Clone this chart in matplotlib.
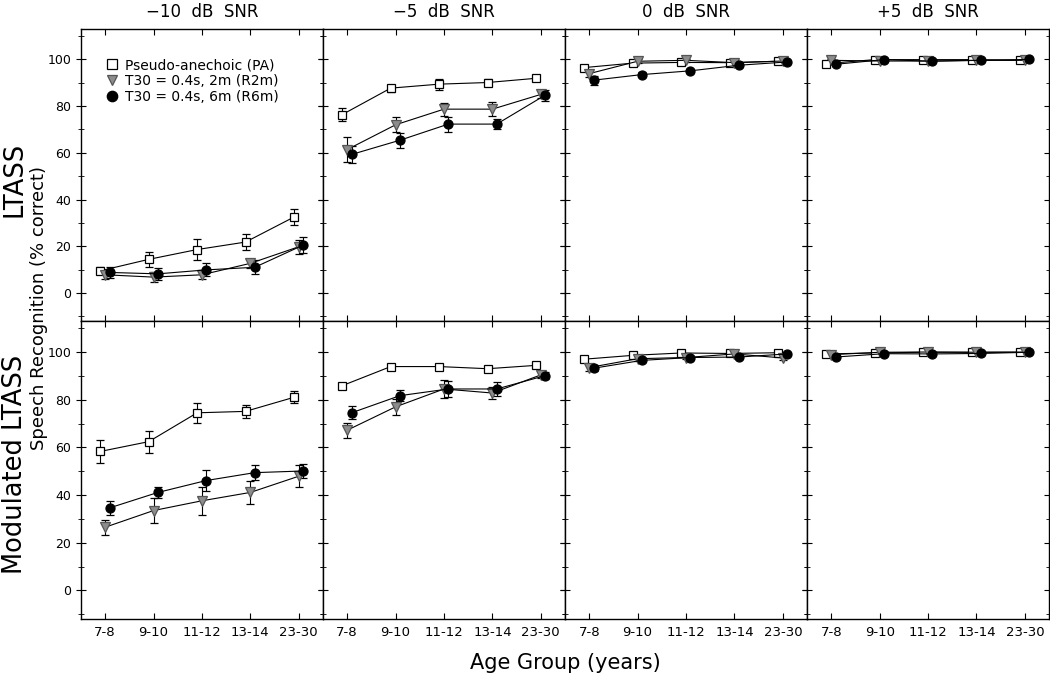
import matplotlib
matplotlib.use('Agg')
import matplotlib.pyplot as plt
from matplotlib.ticker import MultipleLocator
from matplotlib.lines import Line2D

# age groups and SNR conditions
ages = ['7-8', '9-10', '11-12', '13-14', '23-30']
snrs = ['\u221210  dB  SNR', '\u22125  dB  SNR', '0  dB  SNR', '+5  dB  SNR']

#########-----LTASS (top row), one list per SNR-----#########
pa_ltass = [[9.5, 14.4, 18.6, 21.8, 32.5],
            [76.4, 87.7, 89.4, 90.1, 91.9],
            [96.5, 98.4, 98.7, 98.6, 99.2],
            [98.2, 99.9, 99.9, 99.9, 99.6]]
pa_ltass_err = [[1.5, 3.2, 4.4, 3.5, 3.5],
                [2.7, 1.5, 2.3, 1.5, 1.0],
                [1.2, 0.8, 0.8, 0.8, 0.6],
                [0.8, 0.5, 0.5, 0.5, 0.5]]
r2_ltass = [[7.8, 6.8, 7.8, 12.7, 19.8],
            [61.4, 72.0, 78.7, 78.7, 85.0],
            [93.9, 99.2, 99.6, 98.6, 99.3],
            [99.6, 99.3, 99.3, 99.6, 99.6]]
r2_ltass_err = [[2.0, 2.0, 2.0, 2.0, 3.0],
                [5.3, 3.2, 2.8, 3.0, 1.5],
                [1.5, 0.8, 0.6, 0.8, 0.6],
                [0.5, 0.5, 0.5, 0.5, 0.5]]
r6_ltass = [[8.8, 8.2, 9.9, 11.0, 20.5],
            [59.3, 65.4, 72.3, 72.3, 84.7],
            [91.1, 93.5, 95.1, 97.5, 98.9],
            [97.9, 99.9, 99.2, 99.6, 100.0]]
r6_ltass_err = [[2.5, 2.5, 2.8, 3.0, 3.5],
                [3.5, 3.2, 3.2, 2.3, 2.3],
                [2.0, 1.0, 0.8, 0.8, 0.6],
                [0.8, 0.5, 0.5, 0.5, 0.3]]

#########-----Modulated LTASS (bottom row)-----#########
pa_mod = [[58.3, 62.4, 74.5, 75.1, 81.0],
          [85.9, 93.9, 93.9, 93.0, 94.4],
          [97.0, 98.6, 99.6, 99.4, 99.7],
          [99.2, 99.6, 99.9, 99.9, 99.9]]
pa_mod_err = [[5.0, 4.6, 4.1, 2.7, 2.5],
              [1.0, 0.8, 0.8, 0.8, 0.8],
              [0.8, 0.6, 0.5, 0.5, 0.5],
              [0.5, 0.5, 0.3, 0.3, 0.3]]
r2_mod = [[26.5, 33.5, 37.6, 41.1, 47.9],
          [67.2, 77.0, 84.5, 82.8, 90.4],
          [93.5, 97.2, 97.7, 99.2, 97.5],
          [98.9, 99.9, 100.0, 99.9, 100.0]]
r2_mod_err = [[3.2, 5.1, 5.8, 4.8, 4.6],
              [3.1, 3.5, 3.7, 2.5, 1.5],
              [1.5, 0.8, 0.8, 0.6, 0.8],
              [0.6, 0.4, 0.3, 0.3, 0.3]]
r6_mod = [[34.6, 41.1, 46.1, 49.4, 50.1],
          [74.5, 81.7, 84.5, 84.5, 90.1],
          [93.2, 96.5, 97.7, 97.9, 99.2],
          [97.9, 99.3, 99.2, 99.4, 99.9]]
r6_mod_err = [[3.1, 2.3, 4.3, 3.0, 2.9],
              [2.8, 2.4, 3.2, 2.8, 1.5],
              [1.2, 0.8, 0.6, 0.6, 0.5],
              [0.6, 0.4, 0.4, 0.4, 0.3]]

rows = [
    [(pa_ltass, pa_ltass_err), (r2_ltass, r2_ltass_err), (r6_ltass, r6_ltass_err)],
    [(pa_mod, pa_mod_err), (r2_mod, r2_mod_err), (r6_mod, r6_mod_err)],
]

styles = [
    dict(marker='s', mfc='white', mec='black', ms=6.0, label='Pseudo-anechoic (PA)', dx=-0.1),
    dict(marker='v', mfc='#8c8c8c', mec='#555555', ms=6.5, label='T30 = 0.4s, 2m (R2m)', dx=0.0),
    dict(marker='o', mfc='black', mec='black', ms=6.5, label='T30 = 0.4s, 6m (R6m)', dx=0.09),
]

fig = plt.figure(figsize=(10.5, 6.78), dpi=100)

left, colw = 0.0771, 0.2305
bottoms = [0.5265, 0.0870]
heights = [0.4307, 0.4395]

for r in range(2):
    for c in range(4):
        sub = fig.add_axes([left + c * colw, bottoms[r], colw, heights[r]])
        for (vals, errs), st in zip(rows[r], styles):
            x = [i + st['dx'] for i in range(len(ages))]
            sub.errorbar(x, vals[c], yerr=errs[c], color='black', lw=0.8,
                         marker=st['marker'], mfc=st['mfc'], mec=st['mec'],
                         ms=st['ms'], mew=0.9, ecolor='black', elinewidth=0.8,
                         capsize=3, capthick=0.8)
        sub.set_xlim(-0.5, 4.5)
        sub.set_ylim(-12, 113)
        sub.set_xticks(range(len(ages)))
        sub.yaxis.set_major_locator(MultipleLocator(20))
        sub.yaxis.set_minor_locator(MultipleLocator(10))
        sub.tick_params(axis='x', direction='in', top=True, length=4, labelsize=9.5, pad=5)
        sub.tick_params(axis='y', which='both', direction='inout', right=True, length=7,
                        labelsize=9)
        sub.tick_params(axis='y', which='minor', length=4)
        for sp in sub.spines.values():
            sp.set_linewidth(1.0)
        if r == 1:
            sub.set_xticklabels(ages)
        else:
            sub.set_xticklabels([])
            sub.set_title(snrs[c], fontsize=12, pad=9)
        if c != 0:
            sub.set_yticklabels([])
        if r == 0 and c == 0:
            handles = [Line2D([], [], ls='none', marker=st['marker'], mfc=st['mfc'],
                              mec=st['mec'], ms=st['ms'] + 1, mew=0.9) for st in styles]
            sub.legend(handles, [st['label'] for st in styles], loc='upper left',
                       bbox_to_anchor=(0.1, 0.9), frameon=False, fontsize=10,
                       handletextpad=0.4, labelspacing=0.12, handlelength=1.0,
                       borderaxespad=0., borderpad=0.)

fig.text(0.014, 0.735, 'LTASS', rotation=90, fontsize=18.5, ha='center', va='center')
fig.text(0.014, 0.315, 'Modulated LTASS', rotation=90, fontsize=18.5, ha='center', va='center')
fig.text(0.037, 0.545, 'Speech Recognition (% correct)', rotation=90, fontsize=13,
         ha='center', va='center')
fig.text(0.538, 0.022, 'Age Group (years)', fontsize=15, ha='center', va='center')

fig.savefig('out.png', dpi=100)
